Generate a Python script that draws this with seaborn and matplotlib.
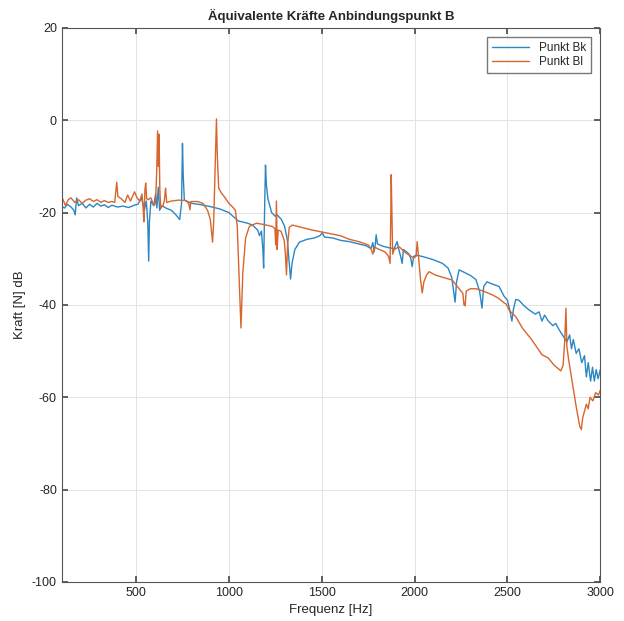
import numpy as np
import pandas as pd
import seaborn as sns
import matplotlib
matplotlib.use("Agg")
import matplotlib.pyplot as plt

# Punkt Bk (blue)
bk_freq = [100, 115, 130, 150, 165, 172, 180, 190, 210, 230, 250, 270, 290, 310, 330, 350, 370, 400,
           430, 460, 490, 510, 530, 545, 555, 563, 568, 572, 580, 595, 605, 612, 620, 627, 640, 660,
           690, 715, 735, 745, 750, 754, 760, 800, 850, 900, 950, 1000, 1050, 1100, 1127, 1155, 1165,
           1175, 1183, 1187, 1192, 1197, 1202, 1210, 1230, 1250, 1260, 1283, 1300, 1315, 1325, 1332,
           1340, 1355, 1380, 1420, 1460, 1490, 1503, 1515, 1560, 1600, 1650, 1700, 1740, 1765, 1775,
           1782, 1788, 1793, 1800, 1830, 1860, 1890, 1906, 1915, 1925, 1933, 1940, 1950, 1970, 1980,
           1987, 1995, 2010, 2050, 2100, 2150, 2180, 2200, 2210, 2218, 2226, 2240, 2270, 2300, 2330,
           2350, 2363, 2372, 2390, 2420, 2455, 2480, 2500, 2512, 2524, 2532, 2545, 2562, 2590, 2620,
           2650, 2670, 2686, 2700, 2720, 2745, 2760, 2780, 2804, 2820, 2835, 2845, 2855, 2870, 2885,
           2900, 2915, 2925, 2935, 2948, 2958, 2968, 2978, 2988, 3000]
bk_db = [-18.7, -19.0, -18.2, -18.8, -19.5, -20.5, -16.8, -18.5, -18.0, -19.0, -18.2, -18.8, -18.0,
         -18.6, -18.3, -18.9, -18.4, -18.8, -18.6, -18.9, -18.4, -18.2, -16.8, -19.5, -17.5, -22.0,
         -30.5, -22.0, -17.5, -18.5, -16.0, -19.0, -14.5, -19.5, -18.5, -19.0, -19.5, -20.5, -21.5,
         -18.0, -5.0, -12.0, -17.3, -18.0, -18.3, -18.7, -19.2, -20.0, -21.8, -22.3, -22.7, -23.8,
         -25.0, -24.0, -28.0, -32.0, -20.0, -9.7, -14.0, -17.0, -20.0, -20.8, -20.5, -21.5, -23.0,
         -26.0, -31.0, -34.4, -31.0, -28.0, -26.4, -25.8, -25.5, -25.0, -24.4, -25.3, -25.5, -26.0,
         -26.3, -26.8, -27.2, -27.8, -26.5, -28.5, -27.0, -24.8, -26.8, -27.3, -27.6, -27.8, -26.3,
         -28.0, -29.5, -31.0, -28.0, -28.3, -29.0, -30.0, -31.7, -29.5, -29.2, -29.6, -30.2, -31.0,
         -32.0, -34.0, -37.0, -39.4, -35.0, -32.4, -33.0, -33.6, -34.5, -37.0, -40.7, -36.0, -35.0,
         -35.5, -36.0, -38.0, -39.0, -41.0, -43.5, -41.0, -38.8, -39.0, -40.2, -41.2, -42.0, -41.5,
         -43.5, -42.2, -43.5, -44.5, -44.0, -45.5, -47.0, -48.0, -46.5, -49.5, -47.5, -50.5, -49.5,
         -52.5, -51.0, -55.6, -52.5, -56.5, -53.5, -56.5, -54.0, -56.0, -54.0]

# Punkt Bl (orange)
bl_freq = [100, 110, 120, 135, 150, 170, 190, 210, 230, 250, 270, 290, 310, 330, 350, 370, 385, 392,
           396, 402, 420, 440, 455, 470, 492, 505, 520, 532, 538, 542, 548, 552, 557, 565, 580, 595,
           605, 612, 616, 620, 624, 628, 633, 645, 652, 659, 665, 690, 730, 770, 785, 790, 795, 830,
           860, 885, 900, 912, 918, 926, 933, 938, 945, 960, 980, 1000, 1020, 1035, 1045, 1055, 1065,
           1075, 1090, 1110, 1148, 1190, 1234, 1248, 1252, 1256, 1260, 1265, 1280, 1298, 1305, 1310,
           1316, 1325, 1342, 1400, 1450, 1500, 1550, 1600, 1650, 1700, 1750, 1765, 1775, 1785, 1810,
           1840, 1860, 1868, 1872, 1874, 1878, 1882, 1890, 1917, 1945, 1970, 1995, 2008, 2014, 2022,
           2032, 2041, 2050, 2065, 2078, 2110, 2150, 2202, 2240, 2260, 2266, 2272, 2278, 2300, 2331,
           2370, 2417, 2450, 2480, 2493, 2510, 2546, 2580, 2600, 2630, 2686, 2720, 2750, 2788, 2800,
           2808, 2815, 2820, 2830, 2850, 2870, 2890, 2898, 2905, 2915, 2925, 2935, 2945, 2960, 2975,
           2990, 3000]
bl_db = [-16.6, -17.5, -18.5, -17.2, -16.8, -17.8, -17.2, -18.0, -17.3, -17.0, -17.6, -17.2, -17.8,
         -17.4, -17.8, -17.6, -17.8, -15.0, -13.4, -16.5, -17.0, -17.8, -16.2, -17.5, -15.5, -16.8,
         -17.5, -16.0, -19.0, -22.0, -15.0, -13.6, -17.0, -17.2, -16.8, -18.5, -18.0, -10.0, -2.3,
         -10.0, -3.0, -15.0, -19.0, -18.5, -17.5, -14.7, -17.8, -17.5, -17.3, -17.4, -18.2, -19.4,
         -17.6, -17.6, -18.0, -19.5, -21.5, -26.4, -22.0, -10.0, 0.3, -8.0, -14.7, -15.8, -16.8,
         -18.0, -18.8, -19.5, -23.0, -34.0, -45.0, -33.0, -25.5, -23.0, -22.3, -22.6, -23.0, -23.5,
         -27.0, -17.5, -28.0, -23.8, -24.0, -26.0, -29.5, -33.5, -27.0, -23.2, -22.7, -23.3, -23.8,
         -24.2, -24.6, -25.0, -25.8, -26.3, -27.0, -27.8, -29.0, -27.5, -28.0, -28.5, -29.5, -31.0,
         -20.0, -11.8, -20.0, -29.0, -28.0, -27.4, -28.5, -29.2, -29.8, -29.5, -26.3, -30.0, -34.5,
         -37.4, -35.0, -33.5, -32.8, -33.5, -34.0, -34.6, -36.5, -37.5, -40.0, -40.2, -37.0, -36.5,
         -36.5, -37.0, -37.8, -38.5, -39.5, -39.8, -41.2, -42.6, -45.0, -46.0, -47.5, -50.8, -51.5,
         -53.0, -54.3, -53.0, -48.0, -40.7, -49.0, -52.0, -57.0, -62.0, -66.4, -67.0, -64.5, -63.0,
         -61.5, -62.5, -60.0, -60.8, -59.0, -59.5, -58.5]

x_ticks = [500, 1000, 1500, 2000, 2500, 3000]
y_ticks = [-100, -80, -60, -40, -20, 0, 20]

df = pd.concat([
    pd.DataFrame({"Frequenz": bk_freq, "Kraft": bk_db, "Punkt": "Punkt Bk"}),
    pd.DataFrame({"Frequenz": bl_freq, "Kraft": bl_db, "Punkt": "Punkt Bl"}),
], ignore_index=True)

sns.set_theme(style="white")
plt.rcParams["font.family"] = ["Liberation Sans", "DejaVu Sans"]
plt.rcParams["axes.unicode_minus"] = False

fig = plt.figure(figsize=(6.24, 6.21), dpi=100)
ax = fig.add_axes([0.099, 0.063, 0.863, 0.892])

sns.lineplot(data=df, x="Frequenz", y="Kraft", hue="Punkt", estimator=None, sort=False,
             palette=["#2b86c2", "#d7652e"], linewidth=1.0, ax=ax)

ax.set_xlim(100, 3000)
ax.set_ylim(-100, 20)
ax.set_xticks(x_ticks)
ax.set_yticks(y_ticks)
ax.grid(True, color="#e3e3e3", linewidth=0.7)
ax.tick_params(direction="in", length=4, labelsize=9, colors="#4d4d4d", labelcolor="#262626",
               top=True, right=True, bottom=True, left=True)
for s in ax.spines.values():
    s.set_color("#555555")
    s.set_linewidth(0.8)

ax.set_title("Äquivalente Kräfte Anbindungspunkt B", fontsize=9.5, fontweight="bold", pad=6)
ax.set_xlabel("Frequenz [Hz]", fontsize=9.5, color="#262626")
ax.set_ylabel("Kraft [N] dB", fontsize=9.5, color="#262626")

ax.legend(loc="upper right", fontsize=8.5, frameon=True, fancybox=False, edgecolor="#555555",
          handlelength=3.2, borderaxespad=0.8, labelspacing=0.2)

fig.savefig("out.png", dpi=100)
